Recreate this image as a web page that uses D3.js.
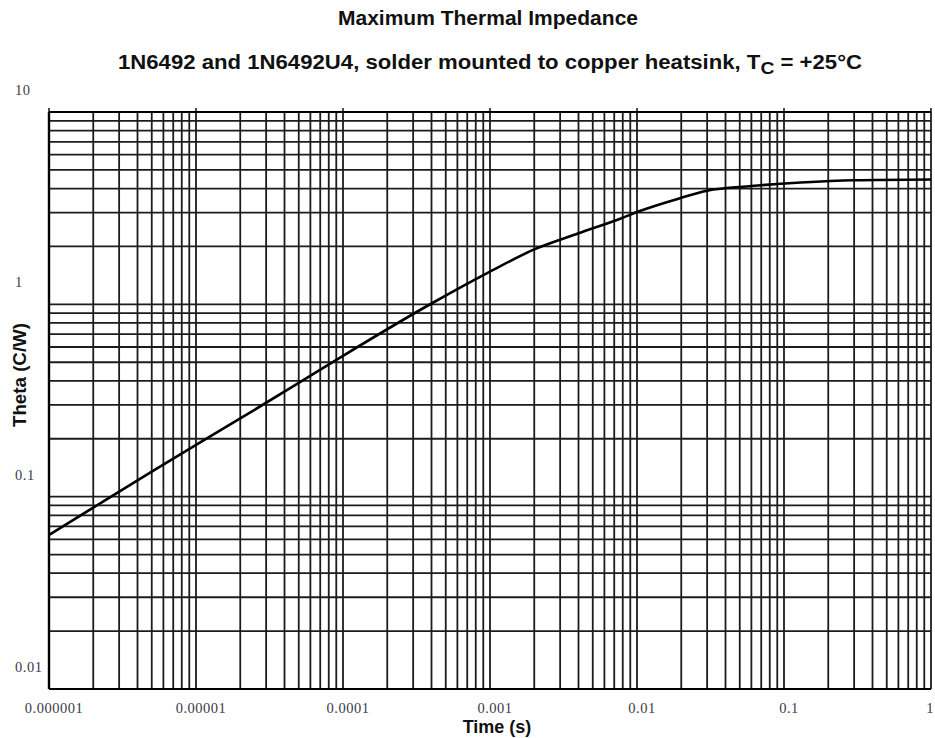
<!DOCTYPE html>
<html>
<head>
<meta charset="utf-8">
<script src="https://cdn.jsdelivr.net/npm/d3@7"></script>
<style>
  html, body { margin: 0; padding: 0; background: #fff; }
  svg { display: block; }
</style>
</head>
<body>
<svg id="chart" width="935" height="738"></svg>
<script>
// ---- data ----
const timeValues  = [1e-6, 2e-6, 5e-6, 2e-5, 5e-5, 1e-4, 4e-4, 1e-3, 2e-3, 4e-3, 8e-3, 0.01, 0.02, 0.03, 0.06, 0.13, 0.3, 1];
const thetaValues = [0.0632, 0.0878, 0.135, 0.255, 0.39, 0.54, 1.01, 1.48, 1.93, 2.34, 2.82, 3.02, 3.58, 3.9, 4.12, 4.3, 4.42, 4.46];
const xTickValues = [1e-6, 1e-5, 1e-4, 1e-3, 1e-2, 1e-1, 1];
const xTickLabels = ["0.000001", "0.00001", "0.0001", "0.001", "0.01", "0.1", "1"];
const yTickValues = [0.01, 0.1, 1, 10];
const yTickLabels = ["0.01", "0.1", "1", "10"];
const titleText = "Maximum Thermal Impedance";
const xAxisTitle = "Time (s)";
const yAxisTitle = "Theta (C/W)";

// ---- layout ----
const L = 49, R = 931, T = 112, B = 689;
const svg = d3.select("#chart");
const x = d3.scaleLog().domain([1e-6, 1]).range([L, R]);
const y = d3.scaleLog().domain([0.01, 10]).range([B, T]);

const gridColor = "#1c1c1c";
// vertical grid
svg.append("g").selectAll("line").data(x.ticks()).join("line")
  .attr("x1", d => x(d)).attr("x2", d => x(d))
  .attr("y1", T).attr("y2", B)
  .attr("stroke", gridColor).attr("stroke-width", 1.8);
// horizontal grid
svg.append("g").selectAll("line").data(y.ticks()).join("line")
  .attr("x1", L).attr("x2", R)
  .attr("y1", d => y(d)).attr("y2", d => y(d))
  .attr("stroke", gridColor).attr("stroke-width", 1.8);
// small ticks above top at decades
svg.append("g").selectAll("line").data(xTickValues).join("line")
  .attr("x1", d => x(d)).attr("x2", d => x(d))
  .attr("y1", T - 4).attr("y2", T)
  .attr("stroke", "#000").attr("stroke-width", 1.4);
// frame
svg.append("line").attr("x1", L).attr("x2", L).attr("y1", T).attr("y2", B)
  .attr("stroke", "#000").attr("stroke-width", 2.4);
svg.append("line").attr("x1", L).attr("x2", R).attr("y1", B).attr("y2", B)
  .attr("stroke", "#000").attr("stroke-width", 2.2);
svg.append("line").attr("x1", L).attr("x2", R).attr("y1", T).attr("y2", T)
  .attr("stroke", "#000").attr("stroke-width", 2);

// curve
const line = d3.line().x((d, i) => x(timeValues[i])).y(d => y(d)).curve(d3.curveMonotoneX);
svg.append("path").attr("d", line(thetaValues))
  .attr("fill", "none").attr("stroke", "#000").attr("stroke-width", 2.6);

// tick labels
const tickFont = "'Liberation Serif', 'Times New Roman', serif";
svg.append("g").selectAll("text").data(xTickValues).join("text")
  .attr("x", (d, i) => i === xTickValues.length - 1 ? 934 : x(d) + 5)
  .attr("y", 713)
  .attr("text-anchor", (d, i) => i === xTickValues.length - 1 ? "end" : "middle")
  .attr("font-family", tickFont).attr("font-size", 14.5)
  .attr("letter-spacing", 0.5)
  .attr("fill", "#3a3a4a")
  .text((d, i) => xTickLabels[i]);
svg.append("g").selectAll("text").data(yTickValues).join("text")
  .attr("x", 15).attr("y", d => y(d) - 17)
  .attr("text-anchor", "start")
  .attr("font-family", tickFont).attr("font-size", 14.5)
  .attr("letter-spacing", 0.5)
  .attr("fill", "#3a3a4a")
  .text((d, i) => yTickLabels[i]);

// titles
const sans = "'Liberation Sans', Arial, sans-serif";
svg.append("text").attr("x", 488).attr("y", 25)
  .attr("text-anchor", "middle").attr("font-family", sans)
  .attr("font-weight", "bold").attr("font-size", 20.5).attr("fill", "#111")
  .attr("textLength", 300).attr("lengthAdjust", "spacingAndGlyphs")
  .text(titleText);
const sub = svg.append("text").attr("x", 490).attr("y", 69)
  .attr("text-anchor", "middle").attr("font-family", sans)
  .attr("font-weight", "bold").attr("font-size", 19.5).attr("fill", "#111")
  .attr("textLength", 744).attr("lengthAdjust", "spacingAndGlyphs");
sub.append("tspan").text("1N6492 and 1N6492U4, solder mounted to copper heatsink, T");
sub.append("tspan").attr("dy", 5).attr("font-size", 17).text("C");
sub.append("tspan").attr("dy", -5).text(" = +25\u00B0C");

svg.append("text").attr("x", 497).attr("y", 733)
  .attr("text-anchor", "middle").attr("font-family", sans)
  .attr("font-weight", "bold").attr("font-size", 18).attr("fill", "#111")
  .text(xAxisTitle);
svg.append("text").attr("transform", "translate(26,375) rotate(-90)")
  .attr("text-anchor", "middle").attr("font-family", sans)
  .attr("font-weight", "bold").attr("font-size", 17.5).attr("fill", "#111")
  .attr("textLength", 104).attr("lengthAdjust", "spacingAndGlyphs")
  .text(yAxisTitle);
</script>
</body>
</html>
